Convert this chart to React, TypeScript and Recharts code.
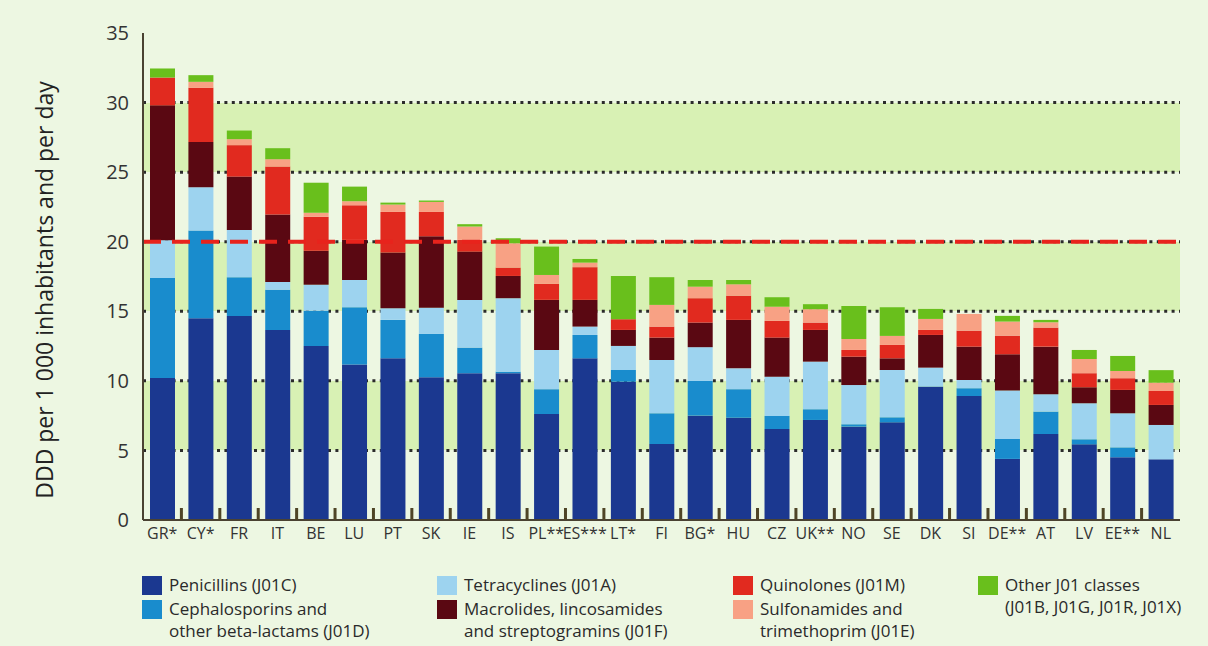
import { BarChart, Bar, XAxis, YAxis, CartesianGrid, ReferenceLine, Label } from 'recharts';

const countries = ['GR*', 'CY*', 'FR', 'IT', 'BE', 'LU', 'PT', 'SK', 'IE', 'IS', 'PL**', 'ES***', 'LT*', 'FI', 'BG*', 'HU', 'CZ', 'UK**', 'NO', 'SE', 'DK', 'SI', 'DE**', 'AT', 'LV', 'EE**', 'NL'];

const penicillins = [10.2, 14.5, 14.67, 13.66, 12.5, 11.17, 11.62, 10.26, 10.55, 10.55, 7.62, 11.62, 9.94, 5.46, 7.5, 7.35, 6.54, 7.19, 6.71, 7.02, 9.58, 8.91, 4.39, 6.18, 5.44, 4.51, 4.36];
const cephalosporins = [7.2, 6.3, 2.78, 2.88, 2.54, 4.12, 2.76, 3.11, 1.84, 0.11, 1.78, 1.68, 0.84, 2.21, 2.49, 2.05, 0.94, 0.77, 0.17, 0.36, 0.02, 0.56, 1.43, 1.61, 0.36, 0.71, 0];
const tetracyclines = [2.7, 3.12, 3.4, 0.57, 1.87, 1.96, 0.84, 1.89, 3.43, 5.28, 2.82, 0.6, 1.73, 3.83, 2.43, 1.5, 2.82, 3.42, 2.82, 3.4, 1.35, 0.59, 3.48, 1.25, 2.59, 2.45, 2.47];
const macrolides = [9.7, 3.25, 3.83, 4.84, 2.44, 2.88, 4.0, 5.13, 3.47, 1.6, 3.6, 1.92, 1.15, 1.61, 1.77, 3.48, 2.81, 2.28, 2.04, 0.84, 2.35, 2.4, 2.61, 3.42, 1.15, 1.68, 1.44];
const quinolones = [2.0, 3.89, 2.26, 3.45, 2.44, 2.49, 2.92, 1.75, 0.84, 0.6, 1.15, 2.35, 0.77, 0.79, 1.75, 1.74, 1.2, 0.53, 0.48, 0.96, 0.36, 1.15, 1.34, 1.37, 1.01, 0.84, 1.0];
const sulfonamides = [0, 0.43, 0.43, 0.53, 0.29, 0.29, 0.53, 0.72, 0.96, 1.75, 0.64, 0.33, 0, 1.56, 0.83, 0.82, 1.02, 0.96, 0.79, 0.65, 0.79, 1.2, 1.01, 0.38, 1.02, 0.52, 0.6];
const otherJ01 = [0.65, 0.48, 0.62, 0.79, 2.16, 1.05, 0.14, 0.1, 0.17, 0.36, 2.04, 0.26, 3.11, 1.99, 0.48, 0.31, 0.68, 0.36, 2.37, 2.06, 0.72, 0, 0.41, 0.17, 0.65, 1.08, 0.9];

const yTicks = [0, 5, 10, 15, 20, 25, 30, 35];
const gridValues = [5, 10, 15, 20, 25, 30];
const targetLevel = 20;

const series = [
  { key: 'pen', name: 'Penicillins (J01C)', color: '#1b3890' },
  { key: 'ceph', name: 'Cephalosporins and|other beta-lactams (J01D)', color: '#198ccd' },
  { key: 'tet', name: 'Tetracyclines (J01A)', color: '#9dd3ef' },
  { key: 'mac', name: 'Macrolides, lincosamides|and streptogramins (J01F)', color: '#5a0812' },
  { key: 'quin', name: 'Quinolones (J01M)', color: '#e12a1f' },
  { key: 'sulf', name: 'Sulfonamides and|trimethoprim (J01E)', color: '#f8a184' },
  { key: 'other', name: 'Other J01 classes|(J01B, J01G, J01R, J01X)', color: '#69bf1c' },
];

const data = countries.map((c, i) => ({
  country: c,
  pen: penicillins[i],
  ceph: cephalosporins[i],
  tet: tetracyclines[i],
  mac: macrolides[i],
  quin: quinolones[i],
  sulf: sulfonamides[i],
  other: otherJ01[i],
}));

// legend columns: series indexes per column
const legendCols = [
  { left: 142, items: [0, 1] },
  { left: 437, items: [2, 3] },
  { left: 733, items: [4, 5] },
  { left: 978, items: [6] },
];

const PAGE_BG = '#edf7e2';
const BAND = '#d8f1b4';
const AXIS = '#4a4232';
const TICK_MARGIN = 8;

const CHART_W = 1208;
const Y_AXIS_W = 143;
const MARGIN_R = 28;
const HALF_BAND = (CHART_W - Y_AXIS_W - MARGIN_R) / countries.length / 2;

// country label plus the small separator tick at the right edge of each band
function renderCountryTick(props: any) {
  const { x, y, payload } = props;
  const axisY = y - TICK_MARGIN;
  const last = payload.value === countries[countries.length - 1];
  return (
    <g key={`t-${payload.value}`}>
      {!last && (
        <rect x={x + HALF_BAND - 1.5} y={axisY - 12} width={3} height={12} fill="#4f4526" />
      )}
      <text
        x={x}
        y={y}
        dy="0.71em"
        textAnchor="middle"
        fontSize={16}
        fill="#333"
        fontFamily='"Open Sans", sans-serif'
      >
        {payload.value}
      </text>
    </g>
  );
}

function LegendBlock() {
  return (
    <>
      {legendCols.map((col, ci) => {
        let row = 0;
        return (
          <div key={ci} style={{ position: 'absolute', left: col.left, top: 574 }}>
            {col.items.map((si) => {
              const s = series[si];
              const lines = s.name.split('|');
              const top = row * 23.5;
              row += lines.length;
              return (
                <div key={s.key} style={{ position: 'absolute', left: 0, top, whiteSpace: 'nowrap' }}>
                  <span
                    style={{
                      position: 'absolute',
                      left: 0,
                      top: 2,
                      width: 20,
                      height: 19,
                      background: s.color,
                    }}
                  />
                  <div
                    style={{
                      position: 'absolute',
                      left: 27,
                      top: 0,
                      fontFamily: '"Liberation Sans Narrow", "Open Sans", sans-serif',
                      fontSize: 17,
                      lineHeight: '22px',
                      color: '#2a2a2a',
                    }}
                  >
                    {lines.map((l, li) => (
                      <div key={li}>{l}</div>
                    ))}
                  </div>
                </div>
              );
            })}
          </div>
        );
      })}
    </>
  );
}

export default function App() {
  return (
    <div
      style={{
        position: 'absolute',
        left: 0,
        top: 0,
        width: 1208,
        height: 646,
        background: PAGE_BG,
        overflow: 'hidden',
      }}
    >
      <BarChart
        width={CHART_W}
        height={560}
        data={data}
        margin={{ top: 33, right: MARGIN_R, bottom: 10, left: 0 }}
        barSize={25}
        style={{ position: 'absolute', left: 0, top: 0 }}
      >
        {/* shaded bands 5-10, 15-20, 25-30 */}
        <CartesianGrid
          vertical={false}
          stroke="none"
          horizontalFill={['none', BAND]}
          fillOpacity={1}
        />
        {/* dotted gridlines */}
        <CartesianGrid
          vertical={false}
          horizontalValues={gridValues}
          stroke="#2b2b2b"
          strokeWidth={3}
          strokeDasharray="3 4.4"
        />
        {series.map((s) => (
          <Bar key={s.key} dataKey={s.key} stackId="a" fill={s.color} isAnimationActive={false} />
        ))}
        <XAxis
          dataKey="country"
          interval={0}
          tickLine={false}
          tickSize={0}
          tickMargin={TICK_MARGIN}
          height={30}
          axisLine={{ stroke: AXIS, strokeWidth: 2 }}
          tick={renderCountryTick}
        />
        <YAxis
          domain={[0, 35]}
          ticks={yTicks}
          width={Y_AXIS_W}
          tickLine={false}
          tickSize={0}
          tickMargin={14}
          axisLine={{ stroke: AXIS, strokeWidth: 2 }}
          tick={{ fontSize: 20, fill: '#333', fontFamily: '"Open Sans", sans-serif' }}
        >
          <Label
            content={() => (
              <text
                x={44}
                y={290}
                transform="rotate(-90 44 290)"
                textAnchor="middle"
                dominantBaseline="central"
                fontSize={23}
                fill="#222"
                fontFamily='"Open Sans", sans-serif'
              >
                DDD per 1 000 inhabitants and per day
              </text>
            )}
          />
        </YAxis>
        <ReferenceLine
          y={targetLevel}
          stroke="#e8231c"
          strokeWidth={4}
          strokeDasharray="18 11"
        />
      </BarChart>
      <LegendBlock />
    </div>
  );
}
